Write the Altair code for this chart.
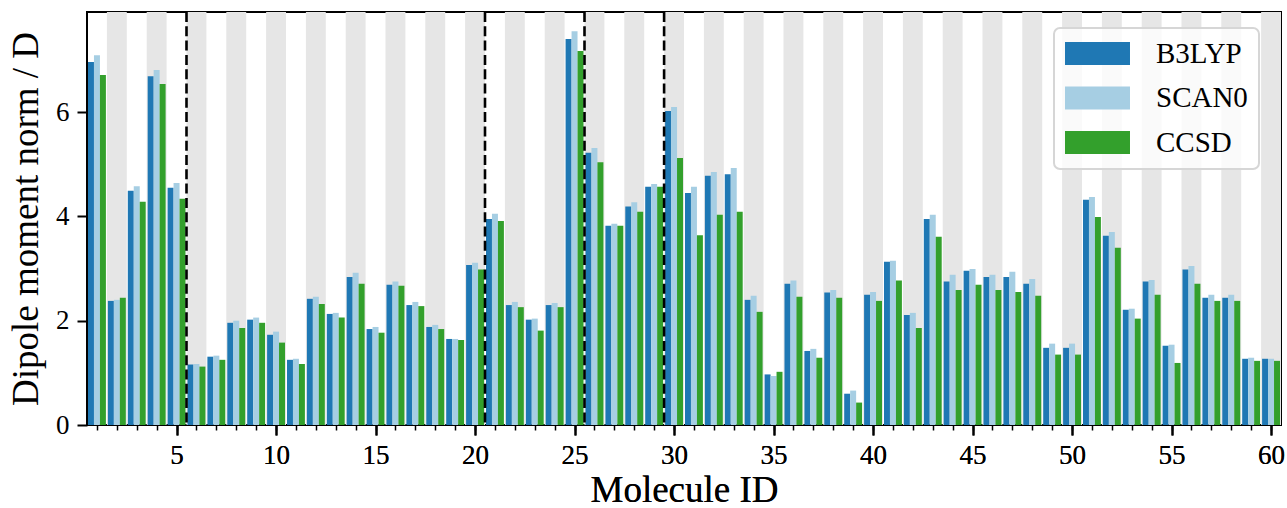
import altair as alt
import pandas as pd

ids = list(range(1, 61))
b3lyp = [6.96, 2.38, 4.49, 6.69, 4.55, 1.16, 1.31, 1.96, 2.02, 1.73,
         1.25, 2.42, 2.13, 2.84, 1.84, 2.69, 2.30, 1.88, 1.65, 3.07,
         3.95, 2.30, 2.02, 2.30, 7.40, 5.22, 3.82, 4.19, 4.57, 6.02,
         4.45, 4.78, 4.81, 2.40, 0.97, 2.71, 1.42, 2.54, 0.60, 2.50,
         3.13, 2.11, 3.95, 2.75, 2.96, 2.84, 2.84, 2.71, 1.48, 1.48,
         4.32, 3.63, 2.21, 2.75, 1.52, 2.98, 2.44, 2.44, 1.27, 1.27]
scan0 = [7.09, 2.40, 4.58, 6.81, 4.64, 1.17, 1.33, 2.00, 2.06, 1.79,
         1.27, 2.46, 2.15, 2.92, 1.88, 2.75, 2.36, 1.92, 1.65, 3.11,
         4.05, 2.36, 2.04, 2.34, 7.55, 5.31, 3.86, 4.27, 4.62, 6.10,
         4.57, 4.85, 4.93, 2.48, 0.94, 2.77, 1.46, 2.59, 0.66, 2.55,
         3.15, 2.15, 4.03, 2.88, 2.99, 2.88, 2.94, 2.80, 1.56, 1.56,
         4.37, 3.70, 2.23, 2.78, 1.54, 3.05, 2.50, 2.50, 1.29, 1.27]
ccsd = [6.71, 2.44, 4.28, 6.54, 4.34, 1.12, 1.25, 1.86, 1.96, 1.58,
        1.17, 2.32, 2.06, 2.71, 1.77, 2.67, 2.28, 1.84, 1.63, 2.98,
        3.91, 2.26, 1.81, 2.26, 7.17, 5.04, 3.82, 4.09, 4.57, 5.12,
        3.64, 4.03, 4.09, 2.17, 1.02, 2.46, 1.29, 2.44, 0.43, 2.38,
        2.77, 1.86, 3.61, 2.59, 2.69, 2.59, 2.55, 2.48, 1.35, 1.35,
        3.99, 3.40, 2.04, 2.50, 1.19, 2.71, 2.38, 2.38, 1.23, 1.23]

methods = ["B3LYP", "SCAN0", "CCSD"]
colors = ["#1f78b4", "#a6cee3", "#33a02c"]
separators = [5.5, 20.5, 25.5, 29.5]
x_major = list(range(5, 61, 5))
y_ticks = [0, 2, 4, 6]
X_DOMAIN = [0.5, 60.5]
Y_DOMAIN = [0, 7.92]
BAR_W = 0.3

FONT = "Liberation Serif"

rows = []
for k, (m, vals) in enumerate(zip(methods, [b3lyp, scan0, ccsd])):
    for i, v in zip(ids, vals):
        start = i - 1.5 * BAR_W + k * BAR_W
        rows.append({"id": i, "method": m, "value": v,
                     "x0": start, "x1": start + BAR_W})
bars_df = pd.DataFrame(rows)

even = [i for i in ids if i % 2 == 0]
bands_df = pd.DataFrame({"x0": [i - 0.5 for i in even],
                         "x1": [i + 0.5 for i in even],
                         "y0": [Y_DOMAIN[0]] * len(even),
                         "y1": [Y_DOMAIN[1]] * len(even)})
sep_df = pd.DataFrame({"x": separators})

xscale = alt.Scale(domain=X_DOMAIN, nice=False, zero=False)
yscale = alt.Scale(domain=Y_DOMAIN, nice=False, zero=False)

y_axis = alt.Axis(values=y_ticks, tickSize=10, tickWidth=2, tickColor="black",
                  labelFontSize=27, labelFont=FONT, labelColor="black",
                  labelPadding=8, domain=False, grid=False,
                  title="Dipole moment norm / D", titleFontSize=37,
                  titleFont=FONT, titleFontWeight="normal", titleColor="black",
                  titlePadding=10)

major_axis = alt.Axis(values=x_major, orient="bottom", tickSize=10, tickWidth=2,
                      tickColor="black", labelFontSize=27, labelFont=FONT,
                      labelColor="black", labelPadding=7, domain=False,
                      grid=False, title="Molecule ID", titleFontSize=37,
                      titleFont=FONT, titleFontWeight="normal",
                      titleColor="black", titlePadding=4)
minor_axis = alt.Axis(values=ids, orient="bottom", tickSize=5, tickWidth=1.5,
                      tickColor="black", labels=False, domain=False,
                      grid=False, title="")

bands = alt.Chart(bands_df).mark_rect(color="#e6e6e6").encode(
    x=alt.X("x0:Q", scale=xscale, axis=minor_axis),
    x2="x1:Q",
    y=alt.Y("y0:Q", scale=yscale, axis=y_axis),
    y2="y1:Q",
)

# wide rectangular legend swatch (65 x 23 px) at symbol size 29 x 29
sym = "M-2.241,-0.793L2.241,-0.793L2.241,0.793L-2.241,0.793Z"
bars = alt.Chart(bars_df).mark_rect().encode(
    x=alt.X("x0:Q", scale=xscale, axis=major_axis),
    x2="x1:Q",
    y=alt.Y("value:Q", scale=yscale, axis=y_axis),
    y2=alt.Y2(datum=0),
    color=alt.Color("method:N",
                    scale=alt.Scale(domain=methods, range=colors),
                    sort=methods,
                    legend=alt.Legend(title=None, orient="none",
                                      legendX=967, legendY=16,
                                      symbolType=sym, symbolSize=841,
                                      symbolOffset=18,
                                      symbolStrokeWidth=0, symbolOpacity=1,
                                      labelFont=FONT, labelFontSize=29,
                                      labelColor="black", labelOffset=44,
                                      rowPadding=14.5, padding=11,
                                      cornerRadius=6, strokeColor="#d6d6d6",
                                      fillColor="rgba(255,255,255,0.8)")),
)

seps = alt.Chart(sep_df).mark_rule(color="black", strokeWidth=2.6,
                                   strokeDash=[10, 4.3]).encode(
    x=alt.X("x:Q", scale=xscale, axis=major_axis),
)

chart = alt.layer(bands, bars, seps).resolve_axis(x="independent").properties(
    width=1194, height=413,
    autosize=alt.AutoSizeParams(type="none"),
    padding={"left": 87, "top": 12, "right": 6, "bottom": 83},
).configure_view(stroke="black", strokeWidth=2).configure_legend(strokeWidth=2)

chart.save("out.html", embed_options={"renderer": "svg", "actions": False})
